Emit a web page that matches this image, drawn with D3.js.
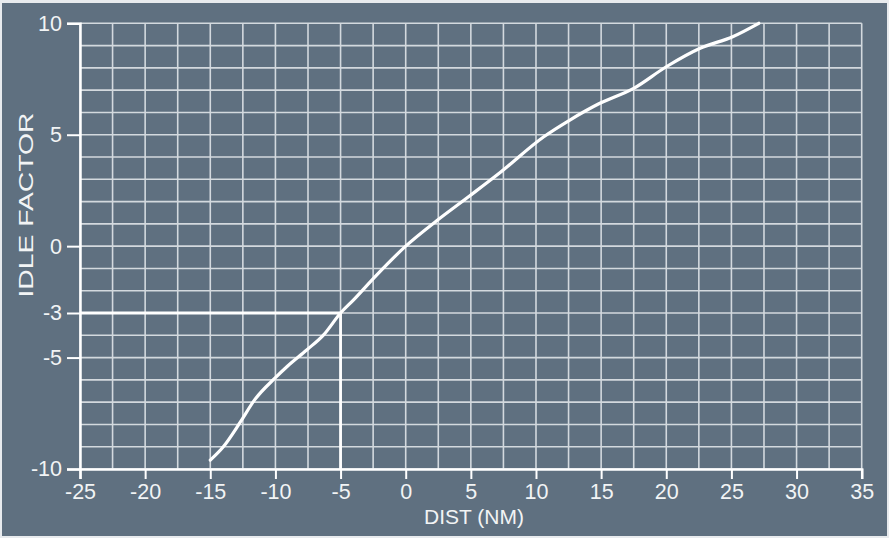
<!DOCTYPE html>
<html>
<head>
<meta charset="utf-8">
<script src="https://cdn.jsdelivr.net/npm/d3@7/dist/d3.min.js"></script>
<style>
html,body{margin:0;padding:0;background:#e8ebee;}
svg{display:block;}
text{font-family:"Liberation Sans",Arial,Helvetica,sans-serif;fill:#f2f4f5;}
</style>
</head>
<body>
<svg id="chart" width="889" height="538"></svg>
<script>
// Curve data: distance (NM) vs idle factor
const distNM = [-15.0, -14.0, -12.7, -11.6, -10.0, -9.1, -7.6, -6.3, -5.0, -4.0, -2.4, 0.0, 2.4, 4.9, 7.2, 10.6, 12.6, 14.9, 17.5, 20.0, 22.6, 25.1, 27.1];
const idleFactor = [-9.6, -9.0, -7.9, -6.9, -5.9, -5.4, -4.66, -3.98, -3.0, -2.41, -1.4, 0.0, 1.15, 2.25, 3.28, 4.91, 5.66, 6.41, 7.08, 8.05, 8.88, 9.4, 10.0];

// Axis ticks
const xTickValues = [-25, -20, -15, -10, -5, 0, 5, 10, 15, 20, 25, 30, 35];
const yTickValues = [10, 5, 0, -3, -5, -10];
const xGridValues = d3.range(-25, 35.01, 2.5);
const yGridValues = d3.range(-10, 10.01, 1);

// Example reading
const exampleDist = [-5];
const exampleIdle = [-3];

const W = 889, H = 538;
const m = {left: 80, right: 889 - 861.7, top: 23.3, bottom: 538 - 469};
const svg = d3.select("#chart");

svg.append("rect").attr("x", 2).attr("y", 3).attr("width", W - 4).attr("height", H - 5).attr("fill", "#5f7080");

const x = d3.scaleLinear().domain([-25, 35]).range([m.left, W - m.right]);
const y = d3.scaleLinear().domain([-10, 10]).range([H - m.bottom, m.top]);
const fmt = d => String(d);

const gridColor = "#d3d9de";
const g = svg.append("g");

// grid
g.selectAll("line.vg").data(xGridValues).enter().append("line")
  .attr("x1", d => x(d)).attr("x2", d => x(d))
  .attr("y1", y(-10)).attr("y2", y(10))
  .attr("stroke", gridColor).attr("stroke-width", 1.6);
g.selectAll("line.hg").data(yGridValues).enter().append("line")
  .attr("x1", x(-25)).attr("x2", x(35))
  .attr("y1", d => y(d)).attr("y2", d => y(d))
  .attr("stroke", gridColor).attr("stroke-width", 1.6);

// x axis
const xAxis = d3.axisBottom(x).tickValues(xTickValues).tickSize(10).tickPadding(3).tickFormat(fmt);
const gx = svg.append("g").attr("transform", `translate(0,${y(-10)})`).call(xAxis);
gx.attr("font-size", 21.5).attr("font-family", null);
gx.select(".domain").attr("stroke", "#ffffff").attr("stroke-width", 2.5);
gx.selectAll(".tick line").attr("stroke", "#ffffff").attr("stroke-width", 2);
gx.selectAll(".tick text").attr("fill", "#f2f4f5").attr("dy", "0.78em");

// y axis
const yAxis = d3.axisLeft(y).tickValues(yTickValues).tickSize(13).tickPadding(5).tickFormat(fmt);
const gy = svg.append("g").attr("transform", `translate(${x(-25)},0)`).call(yAxis);
gy.attr("font-size", 21.5).attr("font-family", null);
gy.select(".domain").attr("stroke", "#ffffff").attr("stroke-width", 2.5);
gy.selectAll(".tick line").attr("stroke", "#ffffff").attr("stroke-width", 2);
gy.selectAll(".tick text").attr("fill", "#f2f4f5");

// example reading lines
svg.append("line")
  .attr("x1", x(-25)).attr("x2", x(exampleDist[0]))
  .attr("y1", y(exampleIdle[0])).attr("y2", y(exampleIdle[0]))
  .attr("stroke", "#ffffff").attr("stroke-width", 3.2);
svg.append("line")
  .attr("x1", x(exampleDist[0])).attr("x2", x(exampleDist[0]))
  .attr("y1", y(exampleIdle[0])).attr("y2", y(-10))
  .attr("stroke", "#ffffff").attr("stroke-width", 2.8);

// curve
const pts = distNM.map((d, i) => [d, idleFactor[i]]);
const line = d3.line().x(d => x(d[0])).y(d => y(d[1])).curve(d3.curveMonotoneX);
svg.append("path").datum(pts).attr("d", line)
  .attr("fill", "none").attr("stroke", "#ffffff").attr("stroke-width", 3.2)
  .attr("stroke-linecap", "round").attr("stroke-linejoin", "round");

// axis titles
svg.append("text").attr("x", 474).attr("y", 524).attr("text-anchor", "middle")
  .attr("font-size", 21).text("DIST (NM)");
svg.append("text").attr("transform", "translate(33,205) rotate(-90)").attr("text-anchor", "middle")
  .attr("font-size", 21).attr("textLength", 185).attr("lengthAdjust", "spacingAndGlyphs").text("IDLE FACTOR");
</script>
</body>
</html>
